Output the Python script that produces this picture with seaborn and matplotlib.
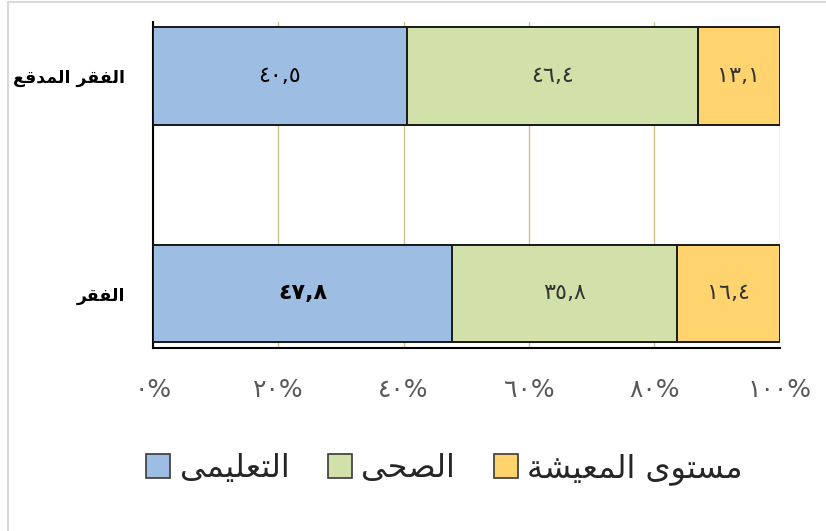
import matplotlib
matplotlib.use("Agg")
import pandas as pd
import matplotlib.pyplot as plt
import seaborn as sns
from matplotlib.patches import Patch, Rectangle

# chart data
categories = ["الفقر المدقع", "الفقر"]
series = ["التعليمى", "الصحى", "مستوى المعيشة"]
education = [40.5, 47.8]
health = [46.4, 35.8]
living = [13.1, 16.4]
xticks = [0, 20, 40, 60, 80, 100]
colors = ["#9dbde3", "#d2e1a9", "#ffd36e"]

sns.set_style("white")
plt.rcParams["font.family"] = ["DejaVu Sans"]

# tiny arabic shaper: matplotlib has no text shaping / bidi
FORMS = {
    "ا": ("\uFE8D", "\uFE8E", None, None),
    "ل": ("\uFEDD", "\uFEDE", "\uFEDF", "\uFEE0"),
    "ف": ("\uFED1", "\uFED2", "\uFED3", "\uFED4"),
    "ق": ("\uFED5", "\uFED6", "\uFED7", "\uFED8"),
    "ر": ("\uFEAD", "\uFEAE", None, None),
    "م": ("\uFEE1", "\uFEE2", "\uFEE3", "\uFEE4"),
    "د": ("\uFEA9", "\uFEAA", None, None),
    "ع": ("\uFEC9", "\uFECA", "\uFECB", "\uFECC"),
    "ت": ("\uFE95", "\uFE96", "\uFE97", "\uFE98"),
    "ي": ("\uFEF1", "\uFEF2", "\uFEF3", "\uFEF4"),
    "ى": ("\uFEEF", "\uFEF0", "\uFBE8", "\uFBE9"),
    "ص": ("\uFEB9", "\uFEBA", "\uFEBB", "\uFEBC"),
    "ح": ("\uFEA1", "\uFEA2", "\uFEA3", "\uFEA4"),
    "س": ("\uFEB1", "\uFEB2", "\uFEB3", "\uFEB4"),
    "و": ("\uFEED", "\uFEEE", None, None),
    "ش": ("\uFEB5", "\uFEB6", "\uFEB7", "\uFEB8"),
    "ة": ("\uFE93", "\uFE94", None, None),
}


def shape(text):
    out = []
    for i, c in enumerate(text):
        if c not in FORMS:
            out.append(c)
            continue
        iso, fin, ini, med = FORMS[c]
        prev = text[i - 1] if i > 0 else None
        nxt = text[i + 1] if i + 1 < len(text) else None
        join_prev = prev in FORMS and FORMS[prev][2] is not None
        join_next = ini is not None and nxt in FORMS
        if join_prev and join_next:
            out.append(med)
        elif join_prev:
            out.append(fin)
        elif join_next:
            out.append(ini)
        else:
            out.append(iso)
    return "".join(out)[::-1]


AR_DIGITS = str.maketrans("0123456789", "٠١٢٣٤٥٦٧٨٩")


def ar_num(v):
    return f"{v:.1f}".replace(".", ",").translate(AR_DIGITS)


df = pd.DataFrame({"category": categories, "edu": education,
                   "health": health, "living": living})
df["c1"] = df["edu"]
df["c2"] = df["edu"] + df["health"]
df["c3"] = df["c2"] + df["living"]

fig = plt.figure(figsize=(8.26, 5.31), dpi=100)
ax = fig.add_axes([0.185, 0.345, 0.759, 0.614])

# stacked bars drawn as overlapping cumulative bars
for col, color in zip(["c3", "c2", "c1"], colors[::-1]):
    sns.barplot(data=df, x=col, y="category", order=categories, color=color,
                width=0.45, edgecolor="#1a1a1a", linewidth=1.4, ax=ax, zorder=3,
                saturation=1)

# value labels
for i, row in df.iterrows():
    parts = [(row["edu"], row["c1"]), (row["health"], row["c2"]), (row["living"], row["c3"])]
    for j, (v, cum) in enumerate(parts):
        ax.text(cum - v / 2, i, ar_num(v), ha="center", va="center", fontsize=16,
                color="black" if j == 0 else "#333333",
                fontweight="bold" if (j == 0 and i == 1) else "normal", zorder=5)

ax.set_xlim(0, 100)
ax.set_ylim(1.25, -0.25)
ax.set_xticks(xticks)
ax.set_xticklabels([f"{t}%".translate(AR_DIGITS) for t in xticks], fontsize=18,
                   color="#595959")
ax.set_yticks(range(len(categories)))
ax.set_yticklabels([shape(c) for c in categories], fontsize=12.5, fontweight="bold",
                   color="black")
ax.tick_params(axis="x", length=0, pad=22)
ax.tick_params(axis="y", length=0, pad=20)
ax.set_xlabel("")
ax.set_ylabel("")
ax.xaxis.grid(True, color="#cdbf8e", linewidth=1, zorder=0)
ax.set_axisbelow(True)
for s in ["top", "right"]:
    ax.spines[s].set_visible(False)
ax.spines["left"].set_color("black")
ax.spines["left"].set_linewidth(1.5)
ax.spines["bottom"].set_color("black")
ax.spines["bottom"].set_linewidth(1.5)

handles = [Patch(facecolor=c, edgecolor="#3a3a3a", linewidth=1.2) for c in colors]
fig.legend(handles, [shape(s) for s in series], loc="center", ncol=3,
           bbox_to_anchor=(0.538, 0.117), frameon=False, fontsize=23,
           handlelength=0.75, handleheight=0.75, handletextpad=0.3,
           columnspacing=1.2)

# light outer chart border
fig.patches.append(Rectangle((8 / 826, -0.02), 1.1, 1 - 2 / 531 + 0.02,
                             transform=fig.transFigure, fill=False,
                             edgecolor="#d9d9d9", linewidth=1.5))

fig.savefig("out.png", dpi=100)
